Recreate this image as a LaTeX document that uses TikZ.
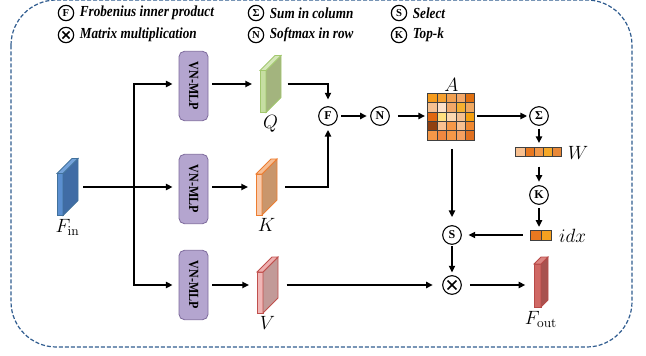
\documentclass[tikz,border=0pt]{standalone}
\usepackage[no-math]{fontspec}
\setmainfont{Liberation Serif}
\newfontfamily\legendfont{Liberation Serif}[FakeStretch=0.86]
\usepackage{graphicx}
\usetikzlibrary{arrows.meta,positioning}

% colours
\definecolor{framecol}{HTML}{2F5C8F}
\definecolor{mlpfill}{HTML}{B4A5CF}
\definecolor{mlpdraw}{HTML}{7D6A9C}
\definecolor{finfront}{HTML}{5B8FD0}
\definecolor{finside}{HTML}{406CA5}
\definecolor{fintop}{HTML}{74A2DA}
\definecolor{findraw}{HTML}{41719C}
\definecolor{qfront}{HTML}{C6DEA2}
\definecolor{qside}{HTML}{A3B47E}
\definecolor{qtop}{HTML}{D5E7BA}
\definecolor{qdraw}{HTML}{A2C86E}
\definecolor{kfront}{HTML}{F8CBAD}
\definecolor{kside}{HTML}{C9966C}
\definecolor{ktop}{HTML}{F6BE94}
\definecolor{kdraw}{HTML}{ED7D31}
\definecolor{vfront}{HTML}{F0B6B6}
\definecolor{vside}{HTML}{C29A98}
\definecolor{vtop}{HTML}{EEB0B0}
\definecolor{vdraw}{HTML}{C0504D}
\definecolor{outfront}{HTML}{CF6864}
\definecolor{outside}{HTML}{A8524F}
\definecolor{outtop}{HTML}{DC8481}
\definecolor{outdraw}{HTML}{B84A48}

\tikzset{
  line/.style={line width=1.3pt},
  arr/.style={line, -{Triangle[length=5pt,width=4.6pt]}},
  op/.style={circle, draw, line width=0.8pt, minimum size=14pt, inner sep=0pt,
    font=\bfseries\fontsize{9}{9}\selectfont},
  key/.style={circle, draw, line width=0.9pt, minimum size=11.5pt, inner sep=0pt,
    font=\bfseries\fontsize{8}{8}\selectfont},
  mulsym/.style={path picture={
    \draw[line width=1.2pt] ([shift={(-#1,-#1)}]path picture bounding box.center)
      -- ([shift={(#1,#1)}]path picture bounding box.center);
    \draw[line width=1.2pt] ([shift={(-#1,#1)}]path picture bounding box.center)
      -- ([shift={(#1,-#1)}]path picture bounding box.center);}},
  legend/.style={anchor=west, inner sep=1pt,
    font=\legendfont\bfseries\itshape\fontsize{11.5}{13}\selectfont},
  mlp/.style={draw=mlpdraw, fill=mlpfill, rounded corners=4pt, line width=0.6pt,
    minimum width=21.75pt, minimum height=52pt, inner sep=0pt,
    font=\legendfont\bfseries\fontsize{10.5}{11}\selectfont},
  slabbox/.style={inner sep=0pt, outer sep=0pt},
  cell/.style={draw=black!75, line width=0.5pt},
  lbl/.style={inner sep=1pt, font=\Large},
}

% 3d slab drawn from a box node: #1 node, #2 front, #3 side, #4 top, #5 border, #6 front width, #7 depth (px)
\newcommand{\slab}[7]{%
  \draw[#5, line width=0.6pt, fill=#2] (#1.south west) rectangle ([shift={(#6,#7)}]#1.north west);
  \draw[#5, line width=0.6pt, fill=#3] ([shift={(#6,0)}]#1.south west)
    -- ([shift={(#6+#7,-#7)}]#1.south west) -- (#1.north east)
    -- ([shift={(#6,#7)}]#1.north west) -- cycle;
  \draw[#5, line width=0.6pt, fill=#4] ([shift={(0,#7)}]#1.north west)
    -- ([shift={(#7,0)}]#1.north west) -- (#1.north east)
    -- ([shift={(#6,#7)}]#1.north west) -- cycle;
}

\begin{document}
\begin{tikzpicture}[x=0.75pt,y=-0.75pt]
  \useasboundingbox (0,0) rectangle (646,356);

  % frame
  \draw[framecol, line width=0.9pt, dash pattern=on 3pt off 1.5pt, rounded corners=34pt]
    (11,0) rectangle (632,347);

  % legend
  \node[key] (kF) at (66,13) {F};
  \node[legend, right=3pt of kF] (tF) {Frobenius inner product};
  \node[key, mulsym=2.7pt] (kMul) at (66,35) {};
  \node[legend, right=3pt of kMul] (tMul) {Matrix multiplication};
  \node[key] (kSum) at (256,13) {Σ};
  \node[legend, right=3pt of kSum] (tSum) {Sum in column};
  \node[key] (kNorm) at (256,35) {N};
  \node[legend, right=3pt of kNorm] (tNorm) {Softmax in row};
  \node[key] (kSel) at (399,13) {S};
  \node[legend, right=3pt of kSel] (tSel) {Select};
  \node[key] (kTopk) at (399,35) {K};
  \node[legend, right=3pt of kTopk] (tTopk) {Top-k};

  % input slab
  \node[slabbox, minimum width=15.75pt, minimum height=42.75pt] (Fin) at (67.5,187) {};
  \slab{Fin}{finfront}{finside}{fintop}{findraw}{6}{15}
  \node[lbl, below=2pt of Fin] (labFin) {$F_{\mathrm{in}}$};

  % VN-MLP branches
  \node[mlp] (mlpQ) at (193.5,86) {\rotatebox{-90}{VN-MLP}};
  \node[mlp] (mlpK) at (193.5,189) {\rotatebox{-90}{VN-MLP}};
  \node[mlp] (mlpV) at (193.5,285) {\rotatebox{-90}{VN-MLP}};
  \coordinate (split) at (134,187);

  % Q K V slabs
  \node[slabbox, minimum width=15.75pt, minimum height=42.75pt] (Q) at (270.5,84) {};
  \slab{Q}{qfront}{qside}{qtop}{qdraw}{6}{15}
  \node[lbl, below=1pt of Q] (labQ) {$Q$};
  \node[slabbox, minimum width=15.75pt, minimum height=42pt] (K) at (266.5,187) {};
  \slab{K}{kfront}{kside}{ktop}{kdraw}{6}{15}
  \node[lbl, below=1pt of K] (labK) {$K$};
  \node[slabbox, minimum width=15.75pt, minimum height=42pt] (V) at (267.5,285) {};
  \slab{V}{vfront}{vside}{vtop}{vdraw}{6}{15}
  \node[lbl, below=1pt of V] (labV) {$V$};

  % operators
  \node[op] (opF) at (328,116) {F};
  \node[op] (opN) at (380,116) {N};
  \node[op] (opSum) at (539,116) {Σ};
  \node[op] (opTopk) at (539,195) {K};
  \node[op] (opSel) at (452,235) {S};
  \node[op, mulsym=3.3pt] (opMul) at (452,285) {};

  % attention matrix
  \node[inner sep=0pt, minimum size=35.25pt] (A) at (451.5,117) {};
  \foreach \rowcols [count=\r from 0] in {
      {F59B1C,F5A030,F2A050,F4A868,E07010},
      {F5C090,FDE0C8,F2A868,F5B030,F0A860},
      {E06810,FFE080,FCD8B0,F5C090,F5A010},
      {904010,F8C090,F59848,F8C090,F08830},
      {F59848,F08840,F59848,F5A060,E07020}}
    \foreach \c [count=\k from 0] in \rowcols {
      \definecolor{cellcol}{HTML}{\c}
      \draw[cell, fill=cellcol] ([shift={(\k*9.4,\r*9.4)}]A.north west) rectangle ++(9.4,9.4);
    }
  \node[lbl, above=0pt of A] (labA) {$A$};

  % W and idx bars
  \node[inner sep=0pt, minimum width=34.5pt, minimum height=6.75pt] (W) at (539,152.5) {};
  \foreach \c [count=\k from 0] in {F8C090,E87820,F29848,F5A828,E88838} {
    \definecolor{cellcol}{HTML}{\c}
    \draw[cell, fill=cellcol] ([shift={(\k*9.2,0)}]W.north west) rectangle ++(9.2,9);
  }
  \node[lbl, right=3pt of W] (labW) {$W$};
  \node[inner sep=0pt, minimum width=15.75pt, minimum height=7.5pt] (idx) at (541.5,235.5) {};
  \foreach \c [count=\k from 0] in {E87820,F5A020} {
    \definecolor{cellcol}{HTML}{\c}
    \draw[cell, fill=cellcol] ([shift={(\k*10.5,0)}]idx.north west) rectangle ++(10.5,10);
  }
  \node[lbl, right=4pt of idx] (labIdx) {$idx$};

  % output slab
  \node[slabbox, minimum width=10.5pt, minimum height=37.5pt] (Fout) at (541,282) {};
  \slab{Fout}{outfront}{outside}{outtop}{outdraw}{7}{7}
  \node[lbl, below=2pt of Fout] (labFout) {$F_{\mathrm{out}}$};

  % connections
  \draw[arr, shorten <=3.75pt, shorten >=4.5pt] (Fin.east) -- (Fin.east -| mlpK.west);
  \draw[arr, shorten >=4.5pt] (split) |- (split |- Q) -- (split |- Q -| mlpQ.west);
  \draw[arr, shorten >=4.5pt] (split) |- (mlpV.west);
  \draw[arr, shorten <=3pt, shorten >=6pt] (Q -| mlpQ.east) -- (Q.west);
  \draw[arr, shorten <=3pt, shorten >=6pt] (K -| mlpK.east) -- (K.west);
  \draw[arr, shorten <=3pt, shorten >=6pt] (mlpV) -- (mlpV -| V.west);
  \draw[arr, shorten <=5pt, shorten >=5pt] (Q.east) -| (opF);
  \draw[arr, shorten <=6pt, shorten >=3pt] (K.east) -| (opF);
  \draw[arr, shorten <=2.5pt, shorten >=2.5pt] (opF) -- (opN);
  \draw[arr, shorten <=6pt, shorten >=2pt] (opN) -- (opN -| A.west);
  \draw[arr, shorten <=1.5pt, shorten >=1.5pt] (A.east |- opSum) -- (opSum);
  \draw[arr, shorten <=2pt, shorten >=3.5pt] (opSum) -- (opSum |- W.north);
  \draw[arr, shorten <=7pt, shorten >=2.5pt] (W) -- (opTopk);
  \draw[arr, shorten <=2.5pt, shorten >=2.5pt] (opTopk) -- (opTopk |- idx.north);
  \draw[arr, shorten <=6pt, shorten >=5pt] (idx.west |- opSel) -- (opSel);
  \draw[arr, shorten <=6pt, shorten >=6pt] (A.south -| opSel) -- (opSel);
  \draw[arr, shorten <=1pt, shorten >=2pt] (opSel) -- (opMul);
  \draw[arr, shorten <=6.5pt, shorten >=7pt] (V) -- (opMul);
  \draw[arr, shorten <=6pt, shorten >=6.5pt] (opMul) -- (opMul -| Fout.west);
\end{tikzpicture}
\end{document}
